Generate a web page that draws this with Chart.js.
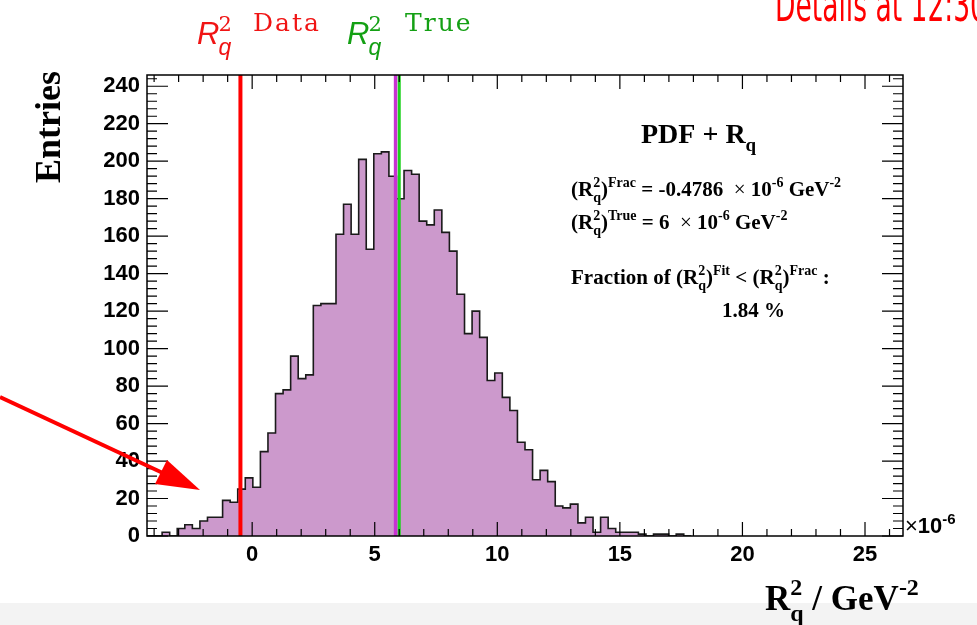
<!DOCTYPE html>
<html>
<head>
<meta charset="utf-8">
<script src="https://cdn.jsdelivr.net/npm/chart.js@4.4.1/dist/chart.umd.min.js"></script>
<style>
  html, body { margin: 0; padding: 0; background: #fff; }
  canvas { display: block; }
</style>
</head>
<body>
<canvas id="hist" width="977" height="625"></canvas>
<script>
"use strict";

// Toy fits of R_q^2 (in 1e-6 GeV^-2), 100 bins; counts
const X_MIN = -4.29;
const X_MAX = 26.55;
const BIN_WIDTH = 0.3084;
const Y_MAX = 246;

const BIN_COUNTS = [
  0, 0, 2, 0, 4, 6, 4, 8, 10, 10,
  19, 18, 25, 31, 26, 45, 55, 76, 78, 96,
  84, 86, 123, 124, 124, 161, 177, 161, 201, 153,
  204, 205, 192, 180, 195, 193, 168, 166, 174, 162,
  152, 129, 108, 120, 106, 83, 87, 74, 67, 50,
  46, 30, 35, 29, 16, 15, 17, 7, 10, 2,
  10, 4, 2, 2, 2, 1, 0, 1, 1, 0,
  1, 0
];

const R2_DATA = -0.4786; // fitted value on data
const R2_TRUE = 6;       // generated value
const R2_MEAN = 5.85;    // mean of the toys

const X_TICK_STEP = 5;
const Y_TICK_STEP = 20;

const FILL = "rgb(204, 153, 204)";
const SERIF = "'Liberation Serif', 'Times New Roman', serif";
const SANS = "'Liberation Sans', Arial, sans-serif";

// step outline: one point per bin low edge, then the closing edge
const histPoints = BIN_COUNTS.map((c, i) => ({ x: X_MIN + i * BIN_WIDTH, y: c }));
histPoints.push({ x: X_MIN + BIN_COUNTS.length * BIN_WIDTH, y: 0 });

function vline(x) {
  return [{ x: x, y: 0 }, { x: x, y: Y_MAX }];
}

// text with super/subscripts: strings are plain, {sup, sub} are scripts
function drawRich(ctx, x, y, parts, size, family, weight) {
  const small = Math.round(size * 0.68);
  parts.forEach(p => {
    if (typeof p === "string") {
      ctx.font = weight + " " + size + "px " + family;
      ctx.fillText(p, x, y);
      x += ctx.measureText(p).width;
    } else if (p.thin) {
      ctx.font = size + "px " + family;
      ctx.fillText(p.thin, x, y);
      x += ctx.measureText(p.thin).width;
    } else {
      ctx.font = weight + " " + small + "px " + family;
      let w = 0;
      if (p.sup) {
        ctx.fillText(p.sup, x, y - size * 0.42);
        w = ctx.measureText(p.sup).width;
      }
      if (p.sub) {
        ctx.fillText(p.sub, x, y + size * 0.3);
        w = Math.max(w, ctx.measureText(p.sub).width);
      }
      x += w;
    }
  });
  return x;
}

const rootStyle = {
  id: "rootStyle",
  beforeDraw(chart) {
    const ctx = chart.ctx;
    ctx.save();
    ctx.fillStyle = "#fff";
    ctx.fillRect(0, 0, chart.width, chart.height);
    ctx.fillStyle = "#f3f3f3";
    ctx.fillRect(0, 603, chart.width, chart.height - 603);
    ctx.restore();
  },
  afterDraw(chart) {
    const ctx = chart.ctx;
    const a = chart.chartArea;
    const xs = chart.scales.x;
    const ys = chart.scales.y;
    ctx.save();

    // frame and inward ticks on all four sides
    ctx.strokeStyle = "#000";
    ctx.lineWidth = 1.5;
    ctx.strokeRect(a.left, a.top, a.right - a.left, a.bottom - a.top);
    ctx.lineWidth = 1.2;
    ctx.beginPath();
    for (let v = Math.ceil(X_MIN); v <= X_MAX; v++) {
      const px = xs.getPixelForValue(v);
      const len = v % X_TICK_STEP === 0 ? 14 : 7;
      ctx.moveTo(px, a.bottom); ctx.lineTo(px, a.bottom - len);
      ctx.moveTo(px, a.top); ctx.lineTo(px, a.top + len);
    }
    for (let v = 0; v <= Y_MAX; v += Y_TICK_STEP / 5) {
      const py = ys.getPixelForValue(v);
      const len = v % Y_TICK_STEP === 0 ? 21 : 10;
      ctx.moveTo(a.left, py); ctx.lineTo(a.left + len, py);
      ctx.moveTo(a.right, py); ctx.lineTo(a.right - len, py);
    }
    ctx.stroke();

    ctx.fillStyle = "#000";
    ctx.textBaseline = "alphabetic";
    ctx.textAlign = "left";

    // axis titles
    ctx.save();
    ctx.translate(60, 183);
    ctx.rotate(-Math.PI / 2);
    ctx.font = "bold 36px " + SERIF;
    ctx.fillText("Entries", 0, 0);
    ctx.restore();
    drawRich(ctx, 765, 610, ["R", { sup: "2", sub: "q" }, " / GeV", { sup: "-2" }], 35, SERIF, "bold");
    drawRich(ctx, 905, 533, [{ thin: "\u00d7" }, "10", { sup: "-6" }], 22, SANS, "bold");

    // stats box
    drawRich(ctx, 641, 143, ["PDF + R", { sub: "q" }], 28, SERIF, "bold");
    drawRich(ctx, 571, 196, ["(R", { sup: "2", sub: "q" }, ")", { sup: "Frac" },
      " = -0.4786  ", { thin: "\u00d7" }, " 10", { sup: "-6" }, " GeV", { sup: "-2" }], 21, SERIF, "bold");
    drawRich(ctx, 571, 229, ["(R", { sup: "2", sub: "q" }, ")", { sup: "True" },
      " = 6  ", { thin: "\u00d7" }, " 10", { sup: "-6" }, " GeV", { sup: "-2" }], 21, SERIF, "bold");
    drawRich(ctx, 571, 284, ["Fraction of (R", { sup: "2", sub: "q" }, ")", { sup: "Fit" },
      " < (R", { sup: "2", sub: "q" }, ")", { sup: "Frac" }, " :"], 21, SERIF, "bold");
    drawRich(ctx, 722, 317, ["1.84 %"], 21, SERIF, "bold");

    // line labels above the frame
    [["rgb(240, 20, 20)", 197, 253, "Data"], ["rgb(20, 160, 20)", 347, 405, "True"]].forEach(([col, x0, x1, word]) => {
      ctx.fillStyle = col;
      ctx.font = "italic 31px " + SANS;
      ctx.fillText("R", x0, 44);
      const rw = ctx.measureText("R").width;
      ctx.font = "21px 'DejaVu Serif', serif";
      ctx.fillText("2", x0 + rw - 1, 31);
      ctx.font = "italic 23px " + SANS;
      ctx.fillText("q", x0 + rw - 1, 55);
      ctx.font = "25px 'DejaVu Serif', serif";
      ctx.letterSpacing = "2px";
      ctx.fillText(word, x1, 31);
      ctx.letterSpacing = "0px";
    });

    // slide annotation, cut by the top edge
    ctx.fillStyle = "rgb(255, 0, 0)";
    ctx.font = "46px 'Comic Sans MS', 'DejaVu Sans', sans-serif";
    ctx.fillText("Details at 12:30", 775, 21, 212);

    // red arrow
    ctx.strokeStyle = "rgb(255, 0, 0)";
    ctx.lineWidth = 4;
    ctx.beginPath();
    ctx.moveTo(0, 397);
    ctx.lineTo(165, 474);
    ctx.stroke();
    ctx.beginPath();
    ctx.moveTo(155, 484);
    ctx.lineTo(167, 460);
    ctx.lineTo(200, 490);
    ctx.closePath();
    ctx.fill();

    ctx.restore();
  }
};

const config = {
  type: "line",
  data: {
    datasets: [
      {
        data: vline(R2_DATA),
        borderColor: "rgb(255, 0, 0)",
        borderWidth: 4,
        pointRadius: 0,
        order: 0
      },
      {
        data: vline(R2_TRUE),
        borderColor: "rgb(30, 210, 30)",
        borderWidth: 3,
        pointRadius: 0,
        order: 0
      },
      {
        data: vline(R2_MEAN),
        borderColor: "rgb(200, 50, 210)",
        borderWidth: 3.5,
        pointRadius: 0,
        order: 0
      },
      {
        data: histPoints,
        stepped: "before",
        fill: "origin",
        backgroundColor: FILL,
        borderColor: "#1a1a1a",
        borderWidth: 1.6,
        pointRadius: 0,
        order: 1
      }
    ]
  },
  options: {
    responsive: false,
    animation: false,
    layout: { padding: { left: 0, right: 74, top: 75, bottom: 0 } },
    plugins: {
      legend: { display: false },
      tooltip: { enabled: false }
    },
    scales: {
      x: {
        type: "linear",
        min: X_MIN,
        max: X_MAX,
        grid: { display: false, drawTicks: false },
        border: { display: false },
        ticks: {
          stepSize: X_TICK_STEP,
          includeBounds: false,
          maxRotation: 0,
          padding: 6,
          color: "#000",
          font: { family: SANS, weight: "bold", size: 22 }
        },
        afterFit(s) { s.height = 89; }
      },
      y: {
        min: 0,
        max: Y_MAX,
        grid: { display: false, drawTicks: false },
        border: { display: false },
        ticks: {
          stepSize: Y_TICK_STEP,
          includeBounds: false,
          padding: 7,
          color: "#000",
          font: { family: SANS, weight: "bold", size: 22 }
        },
        afterFit(s) { s.width = 147; }
      }
    }
  },
  plugins: [rootStyle]
};

window.onload = function() {
  const ctx = document.getElementById("hist").getContext("2d");
  window.histChart = new Chart(ctx, config);
};
</script>
</body>
</html>
